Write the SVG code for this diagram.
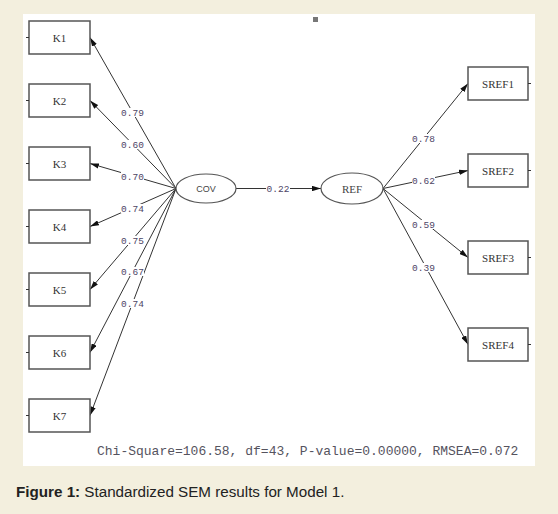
<svg xmlns="http://www.w3.org/2000/svg" width="558" height="514" viewBox="0 0 558 514">
<defs>
<style>
.box{fill:#fff;stroke:#555;stroke-width:1.5}
.lat{fill:#fff;stroke:#555;stroke-width:1.2}
.bt{font-family:"Liberation Serif",serif;font-size:11px;fill:#333;text-anchor:middle}
.edge{stroke:#333;stroke-width:1;fill:none;marker-end:url(#ah)}
.lbl{font-family:"Liberation Mono",monospace;font-size:9.5px;fill:#4d4466;text-anchor:middle}
.lb{fill:#fff}
.tick{stroke:#333;stroke-width:1}
</style>
<marker id="ah" viewBox="0 0 10 6" refX="10" refY="3" markerWidth="9" markerHeight="5.5" markerUnits="userSpaceOnUse" orient="auto">
<path d="M0,0 L10,3 L0,6 z" fill="#111"/>
</marker>
</defs>
<rect x="0" y="0" width="558" height="514" fill="#f3efde"/>
<rect x="23" y="14" width="512" height="452" fill="#fff"/>
<rect x="313" y="17" width="5" height="5" fill="#777"/>
<g id="connectors">
<line class="edge" x1="176" y1="188.5" x2="90" y2="37.5"/>
<line class="edge" x1="176" y1="188.5" x2="90" y2="100.5"/>
<line class="edge" x1="176" y1="188.5" x2="90" y2="163.5"/>
<line class="edge" x1="176" y1="188.5" x2="90" y2="226.5"/>
<line class="edge" x1="176" y1="188.5" x2="90" y2="289.5"/>
<line class="edge" x1="176" y1="188.5" x2="90" y2="352.5"/>
<line class="edge" x1="176" y1="188.5" x2="90" y2="415.5"/>
<line class="edge" x1="236" y1="188.5" x2="321" y2="188.5"/>
<line class="edge" x1="383" y1="188.5" x2="468" y2="83.5"/>
<line class="edge" x1="383" y1="188.5" x2="468" y2="170.5"/>
<line class="edge" x1="383" y1="188.5" x2="468" y2="257.5"/>
<line class="edge" x1="383" y1="188.5" x2="468" y2="344.5"/>
<g id="labels">
<rect class="lb" x="121" y="108" width="23" height="9"/><text class="lbl" x="132.5" y="116">0.79</text>
<rect class="lb" x="121" y="140" width="23" height="9"/><text class="lbl" x="132.5" y="148">0.60</text>
<rect class="lb" x="121" y="172" width="23" height="9"/><text class="lbl" x="132.5" y="180">0.70</text>
<rect class="lb" x="121" y="204" width="23" height="9"/><text class="lbl" x="132.5" y="212">0.74</text>
<rect class="lb" x="121" y="236" width="23" height="9"/><text class="lbl" x="132.5" y="244">0.75</text>
<rect class="lb" x="121" y="267" width="23" height="9"/><text class="lbl" x="132.5" y="275">0.67</text>
<rect class="lb" x="121" y="299" width="23" height="9"/><text class="lbl" x="132.5" y="307">0.74</text>
<rect class="lb" x="266" y="184" width="24" height="9"/><text class="lbl" x="278" y="192">0.22</text>
<rect class="lb" x="412" y="134" width="23" height="9"/><text class="lbl" x="423.5" y="142">0.78</text>
<rect class="lb" x="412" y="176" width="23" height="9"/><text class="lbl" x="423.5" y="184">0.62</text>
<rect class="lb" x="412" y="220" width="23" height="9"/><text class="lbl" x="423.5" y="228">0.59</text>
<rect class="lb" x="412" y="263" width="23" height="9"/><text class="lbl" x="423.5" y="271">0.39</text>
</g>
</g>
<g id="COV"><ellipse class="lat" cx="206" cy="188.5" rx="30" ry="14.5"/><text x="206" y="192" font-family="Liberation Sans,sans-serif" font-size="9" fill="#444" text-anchor="middle">COV</text></g>
<g id="REF"><ellipse class="lat" cx="352" cy="188.5" rx="31" ry="15.5"/><text x="352" y="192.5" font-family="Liberation Serif,serif" font-size="11" fill="#444" text-anchor="middle">REF</text></g>
<g id="K1"><rect class="box" x="29" y="21" width="61" height="33"/><line class="tick" x1="26" y1="37.5" x2="29" y2="37.5"/><text class="bt" x="59.5" y="41.5">K1</text></g>
<g id="K2"><rect class="box" x="29" y="84" width="61" height="33"/><line class="tick" x1="26" y1="100.5" x2="29" y2="100.5"/><text class="bt" x="59.5" y="104.5">K2</text></g>
<g id="K3"><rect class="box" x="29" y="147" width="61" height="33"/><line class="tick" x1="26" y1="163.5" x2="29" y2="163.5"/><text class="bt" x="59.5" y="167.5">K3</text></g>
<g id="K4"><rect class="box" x="29" y="210" width="61" height="33"/><line class="tick" x1="26" y1="226.5" x2="29" y2="226.5"/><text class="bt" x="59.5" y="230.5">K4</text></g>
<g id="K5"><rect class="box" x="29" y="273" width="61" height="33"/><line class="tick" x1="26" y1="289.5" x2="29" y2="289.5"/><text class="bt" x="59.5" y="293.5">K5</text></g>
<g id="K6"><rect class="box" x="29" y="336" width="61" height="33"/><line class="tick" x1="26" y1="352.5" x2="29" y2="352.5"/><text class="bt" x="59.5" y="356.5">K6</text></g>
<g id="K7"><rect class="box" x="29" y="399" width="61" height="33"/><line class="tick" x1="26" y1="415.5" x2="29" y2="415.5"/><text class="bt" x="59.5" y="419.5">K7</text></g>
<g id="SREF1"><rect class="box" x="468" y="67" width="60" height="33"/><line class="tick" x1="528" y1="83.5" x2="531" y2="83.5"/><text class="bt" x="498" y="87.5" font-size="10">SREF1</text></g>
<g id="SREF2"><rect class="box" x="468" y="154" width="60" height="33"/><line class="tick" x1="528" y1="170.5" x2="531" y2="170.5"/><text class="bt" x="498" y="174.5" font-size="10">SREF2</text></g>
<g id="SREF3"><rect class="box" x="468" y="241" width="60" height="33"/><line class="tick" x1="528" y1="257.5" x2="531" y2="257.5"/><text class="bt" x="498" y="261.5" font-size="10">SREF3</text></g>
<g id="SREF4"><rect class="box" x="468" y="328" width="60" height="33"/><line class="tick" x1="528" y1="344.5" x2="531" y2="344.5"/><text class="bt" x="498" y="348.5" font-size="10">SREF4</text></g>
<text x="97" y="455" font-family="Liberation Mono,monospace" font-size="13" fill="#55535e">Chi-Square=106.58, df=43, P-value=0.00000, RMSEA=0.072</text>
<text x="16" y="497" font-family="Liberation Sans,Arial,sans-serif" font-size="15.2" fill="#222"><tspan font-weight="bold">Figure 1:</tspan> Standardized SEM results for Model 1.</text>
</svg>
